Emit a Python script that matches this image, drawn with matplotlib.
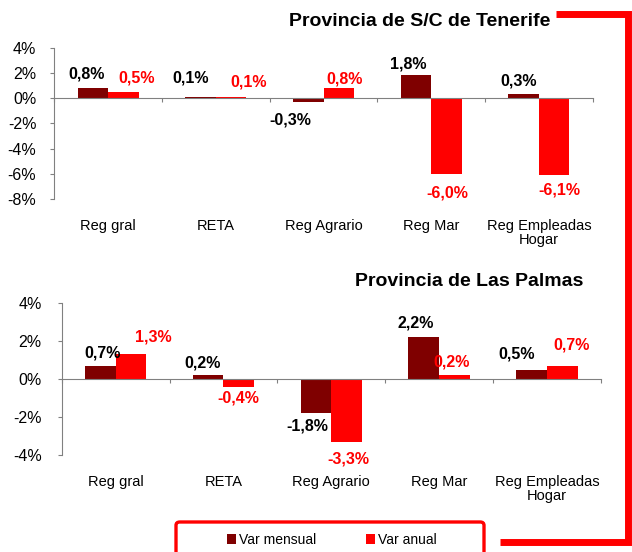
import matplotlib.pyplot as plt
from matplotlib.lines import Line2D
from matplotlib.patches import FancyBboxPatch, Patch
from matplotlib.ticker import FuncFormatter, FixedLocator
import numpy as np

plt.rcParams["font.family"] = ["Liberation Sans", "DejaVu Sans"]

categories = ["Reg gral", "RETA", "Reg Agrario", "Reg Mar", "Reg Empleadas\nHogar"]
series_names = ["Var mensual", "Var anual"]

tenerife_mensual = [0.8, 0.1, -0.3, 1.8, 0.3]
tenerife_anual = [0.5, 0.1, 0.8, -6.0, -6.1]
palmas_mensual = [0.7, 0.2, -1.8, 2.2, 0.5]
palmas_anual = [1.3, -0.4, -3.3, 0.2, 0.7]

DARK = "#7f0000"
RED = "#ff0000"
W, H = 632, 552

# label offsets in pixels (dx right, dy down) from each bar end
tf_off_m = [(-6, -14), (-10, -19), (-18, 18), (-8, -11), (-5, -13)]
tf_off_a = [(13, -14), (17, -15), (6, -9), (1, 19), (5, 15)]
lp_off_m = [(2, -13), (-6, -12), (-9, 13), (-8, -14), (-15, -16)]
lp_off_a = [(22, -17), (0, 11), (2, 17), (-3, -13), (9, -21)]


def fmt_pct(v):
    return f"{v:.1f}".replace(".", ",") + "%"


def draw_panel(fig, rect, mensual, anual, ylim, yticks, off_m, off_a, title, title_xy, cat_y, ypad):
    ax = fig.add_axes(rect)
    x = np.arange(len(categories))
    bw = 0.284
    bm = ax.bar(x - bw / 2, mensual, bw, color=DARK, zorder=2)
    ba = ax.bar(x + bw / 2, anual, bw, color=RED, zorder=2)
    ax.set_xlim(-0.5, len(categories) - 0.5)
    ax.set_ylim(*ylim)

    for spine in ("top", "right"):
        ax.spines[spine].set_visible(False)
    ax.spines["left"].set_color("#808080")
    ax.spines["bottom"].set_color("#808080")
    ax.spines["bottom"].set_position(("data", 0))
    ax.spines["bottom"].set_zorder(3)

    ax.yaxis.set_major_locator(FixedLocator(yticks))
    ax.yaxis.set_major_formatter(FuncFormatter(lambda v, p: f"{v:.0f}%"))
    ax.tick_params(axis="y", length=3, color="#808080", labelsize=11.5, pad=ypad)
    ax.xaxis.set_major_locator(FixedLocator(np.arange(len(categories) + 1) - 0.5))
    ax.tick_params(axis="x", length=3, direction="out", color="#808080", labelbottom=False)

    for bars, vals, offs, col in ((bm, mensual, off_m, "black"), (ba, anual, off_a, RED)):
        for b, v, (dx, dy) in zip(bars, vals, offs):
            ax.annotate(fmt_pct(v), (b.get_x() + b.get_width() / 2, v),
                        xytext=(dx, -dy), textcoords="offset pixels",
                        ha="center", va="center", fontsize=11.5,
                        fontweight="bold", color=col)

    for xi, name in zip(x, categories):
        ax.text(xi, cat_y, name, transform=ax.get_xaxis_transform(),
                ha="center", va="top", fontsize=10.5, linespacing=1.0)

    fig.text(title_xy[0] / W, 1 - title_xy[1] / H, title, ha="center", va="center",
             fontsize=14, fontweight="bold")
    return ax


fig = plt.figure(figsize=(W / 100, H / 100), dpi=100)

draw_panel(fig, [54.4 / W, 1 - 199 / H, (592.7 - 54.4) / W, (199 - 47.7) / H],
           tenerife_mensual, tenerife_anual, (-8, 4), [-8, -6, -4, -2, 0, 2, 4],
           tf_off_m, tf_off_a, "Provincia de S/C de Tenerife", (420, 22), -0.13, 10)

draw_panel(fig, [61.7 / W, 1 - 455 / H, (600.8 - 61.7) / W, (455 - 303.3) / H],
           palmas_mensual, palmas_anual, (-4, 4), [-4, -2, 0, 2, 4],
           lp_off_m, lp_off_a, "Provincia de Las Palmas", (469, 282), -0.13, 11.5)

# red frame decoration
fig.add_artist(Line2D([556 / W, 628 / W, 628 / W, 500 / W],
                      [1 - 14 / H, 1 - 14 / H, 1 - 542 / H, 1 - 542 / H],
                      transform=fig.transFigure, color=RED, lw=5,
                      solid_joinstyle="miter", solid_capstyle="butt"))

# legend box
fig.add_artist(FancyBboxPatch((176 / W, -0.05), (484 - 176) / W, 1 - 522 / H + 0.05,
                              boxstyle="round,pad=0,rounding_size=0.006",
                              transform=fig.transFigure, facecolor="white",
                              edgecolor=RED, lw=2.4))
handles = [Patch(facecolor=DARK), Patch(facecolor=RED)]
fig.legend(handles, series_names, loc="center", bbox_to_anchor=(332 / W, 1 - 540 / H),
           ncol=2, frameon=False, fontsize=10, handlelength=0.65, handleheight=0.65,
           handletextpad=0.2, columnspacing=3.6, borderpad=0)

fig.savefig("out.png", dpi=100)
